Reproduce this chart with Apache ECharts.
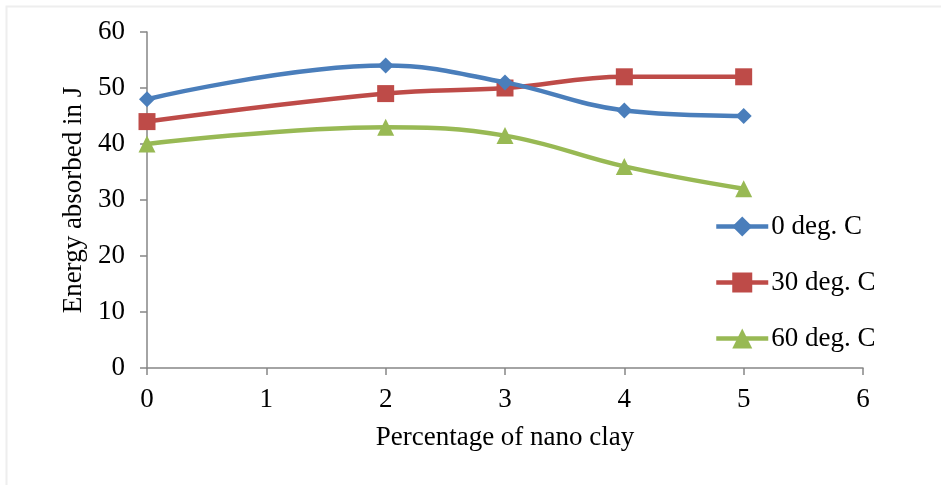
<!DOCTYPE html>
<html>
<head>
<meta charset="utf-8">
<script src="https://cdn.jsdelivr.net/npm/echarts@6/dist/echarts.min.js"></script>
<style>html,body{margin:0;padding:0;background:#fff}#c{width:941px;height:485px}</style>
</head>
<body>
<div id="c"></div>
<script>
const xValues = [0, 2, 3, 4, 5];
const seriesNames = ['0 deg. C', '30 deg. C', '60 deg. C'];
const deg0 = [48, 54, 51, 46, 45];
const deg30 = [44, 49, 50, 52, 52];
const deg60 = [40, 43, 41.5, 36, 32];
const xTicks = [0, 1, 2, 3, 4, 5, 6];
const yTicks = [0, 10, 20, 30, 40, 50, 60];

const font = 'Liberation Serif';
const colors = ['#4A7EBB', '#BE4B48', '#98B954'];
const symbols = ['diamond', 'rect', 'triangle'];
const sizes = [16, 17, 17];
const data = [deg0, deg30, deg60];

const chart = echarts.init(document.getElementById('c'));
chart.setOption({
  animation: false,
  graphic: [{
    type: 'rect', shape: {x: 6.5, y: 6.5, width: 1000, height: 1000},
    style: {fill: 'none', stroke: '#eeeeee', lineWidth: 2}, silent: true, z: -1
  }],
  grid: {left: 147, right: 78, top: 32, bottom: 117},
  legend: {
    orient: 'vertical', left: 714, top: 213, padding: 0,
    itemWidth: 52, itemHeight: 25, itemGap: 29,
    lineStyle: {width: 4.5},
    textStyle: {fontFamily: font, fontSize: 27, color: '#000', padding: [0,0,0,-2]},
    data: seriesNames
  },
  xAxis: {
    type: 'value', min: 0, max: 6, interval: 1,
    name: 'Percentage of nano clay', nameLocation: 'middle', nameGap: 56,
    nameTextStyle: {fontFamily: font, fontSize: 27, color: '#000'},
    axisLine: {lineStyle: {color: '#868686', width: 1.5}},
    axisTick: {show: true, length: 7, lineStyle: {color: '#868686', width: 1.5}},
    axisLabel: {fontFamily: font, fontSize: 27, color: '#000', margin: 18,
      formatter: v => xTicks.includes(v) ? String(v) : ''},
    splitLine: {show: false}
  },
  yAxis: {
    type: 'value', min: 0, max: 60, interval: 10,
    name: 'Energy absorbed in J', nameLocation: 'middle', nameGap: 60, nameRotate: 90,
    nameTextStyle: {fontFamily: font, fontSize: 27, color: '#000'},
    axisLine: {show: true, lineStyle: {color: '#868686', width: 1.5}},
    axisTick: {show: true, length: 7, lineStyle: {color: '#868686', width: 1.5}},
    axisLabel: {fontFamily: font, fontSize: 27, color: '#000', margin: 22,
      formatter: v => yTicks.includes(v) ? String(v) : ''},
    splitLine: {show: false}
  },
  series: seriesNames.map((n, i) => ({
    name: n, type: 'line', smooth: 0.4,
    data: xValues.map((x, j) => [x, data[i][j]]),
    symbol: symbols[i], symbolSize: sizes[i],
    lineStyle: {color: colors[i], width: 4.5},
    itemStyle: {color: colors[i]},
    z: 3 - i
  }))
});
</script>
</body>
</html>
